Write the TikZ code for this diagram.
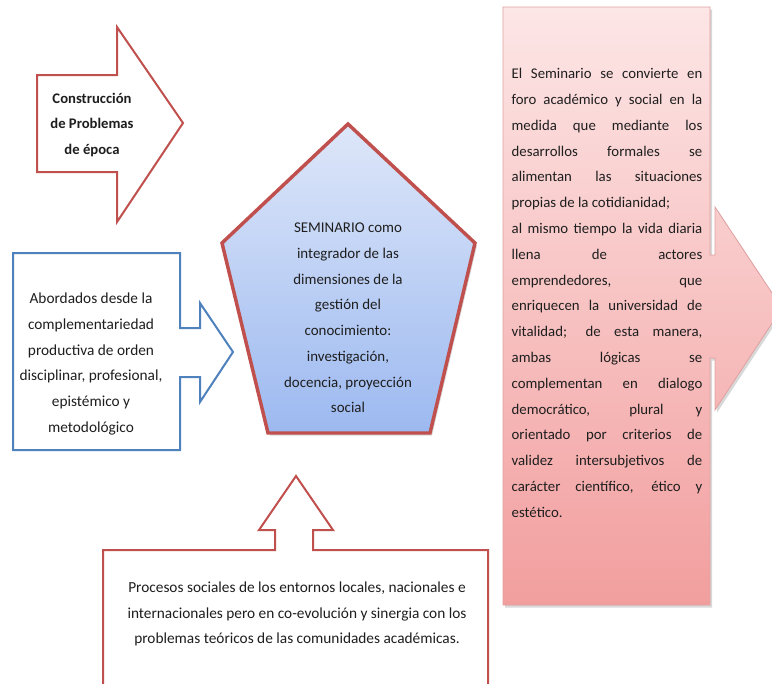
\documentclass[tikz,border=0pt]{standalone}
\usepackage{fontspec}
\setmainfont{Carlito}
\usetikzlibrary{shadows}

\definecolor{arrowred}{HTML}{C0504D}
\definecolor{arrowblue}{HTML}{4F81BD}
\definecolor{textgray}{HTML}{1E1E1E}
\definecolor{pinktop}{HTML}{FDE6E6}
\definecolor{pinkbottom}{HTML}{F29E9E}
\definecolor{pinkedge}{HTML}{E0A0A0}
\definecolor{bluetop}{HTML}{DEE7F9}
\definecolor{bluebottom}{HTML}{9CB9F0}

\newcommand{\rboxw}{143pt}

\tikzset{
  txt/.style={text=textgray, font=\fontsize{11.5}{19.3}\selectfont, align=center, inner sep=0pt},
  redarrow/.style={draw=arrowred, line width=1.5pt, fill=white},
  bluearrow/.style={draw=arrowblue, line width=1.5pt, fill=white},
  softshadow/.style={drop shadow={opacity=0.3, shadow xshift=1.5pt, shadow yshift=-2pt}}
}

\begin{document}
\begin{tikzpicture}[x=0.75pt,y=-0.75pt]

\clip (0,0) rectangle (772,683);
\fill[white] (0,0) rectangle (772,683);

% callout on the right
\path[softshadow, top color=pinktop, bottom color=pinkbottom, draw=pinkedge, line width=0.6pt]
  (503,7) -- (710,7) -- (710,255) -- (715,255) -- (715,207) -- (782,308) -- (715,410)
  -- (715,358) -- (710,358) -- (710,605) -- (503,605) -- cycle;

% arrows
\filldraw[redarrow] (37,75) -- (117,75) -- (117,27) -- (183,123) -- (117,222) -- (117,172) -- (37,172) -- cycle;
\filldraw[bluearrow] (13,253) -- (180,253) -- (180,328) -- (200,328) -- (200,303) -- (233,352) -- (200,402)
  -- (200,377) -- (180,377) -- (180,450) -- (13,450) -- cycle;
\filldraw[redarrow] (103,700) -- (103,550) -- (275,550) -- (275,530) -- (259,530) -- (296,476) -- (333,530)
  -- (313,530) -- (313,550) -- (488,550) -- (488,700) -- cycle;

% pentagon
\path[softshadow, top color=bluetop, bottom color=bluebottom, draw=arrowred, line width=2.6pt, line join=miter]
  (348,124) -- (475,243) -- (430,433) -- (268,433) -- (222,243) -- cycle;

\node[txt, font=\fontsize{11}{19.3}\selectfont\bfseries] (problemas) at (92,125)
  {Construcción\\de Problemas\\de época};
\node[txt] (abordados) at (91,364)
  {Abordados desde la\\complementariedad\\productiva de orden\\disciplinar, profesional,\\epistémico y\\metodológico};
\node[txt, font=\fontsize{11.2}{19.3}\selectfont] (seminario) at (348,318)
  {SEMINARIO como\\integrador de las\\dimensiones  de la\\gestión del\\conocimiento:\\investigación,\\docencia, proyección\\social};
\node[txt, font=\fontsize{11.1}{19.35}\selectfont, text width=\rboxw, align=justify] (foro) at (607,293)
  {\hyphenpenalty=10000\tolerance=10000\hbadness=10000
   El Seminario se convierte en\linebreak
   foro académico y social en la\linebreak
   medida que mediante los\linebreak
   desarrollos formales se\linebreak
   alimentan las situaciones\linebreak
   propias de la cotidianidad;\\
   al mismo tiempo la vida diaria\linebreak
   llena de actores\linebreak
   emprendedores, que\linebreak
   enriquecen la universidad de\linebreak
   vitalidad; de esta manera,\linebreak
   ambas lógicas se\linebreak
   complementan en dialogo\linebreak
   democrático, plural y\linebreak
   orientado por criterios de\linebreak
   validez intersubjetivos de\linebreak
   carácter científico, ético y\linebreak
   estético.};
\node[txt] (procesos) at (297,614)
  {Procesos sociales de los entornos locales, nacionales e\\internacionales  pero en co-evolución y sinergia  con los\\problemas  teóricos de las comunidades  académicas.};

\end{tikzpicture}
\end{document}
